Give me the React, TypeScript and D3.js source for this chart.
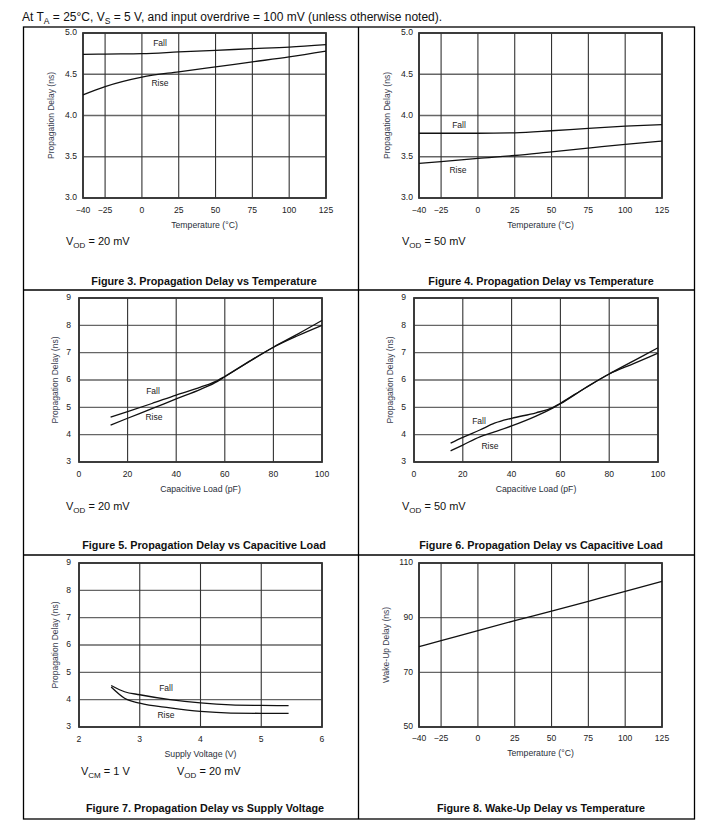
import React from "react";
import * as d3 from "d3";

// ---------- DATA ----------
const tempTicks = [-40, -25, 0, 25, 50, 75, 100, 125];
const tempsFig3 = [-40, -25, 0, 25, 50, 75, 100, 125];
const fig3Fall = [4.74, 4.745, 4.75, 4.77, 4.79, 4.81, 4.83, 4.86];
const fig3Rise = [4.25, 4.35, 4.465, 4.53, 4.59, 4.65, 4.71, 4.78];

const tempsFig4 = [-40, -25, 0, 25, 50, 75, 100, 125];
const fig4Fall = [3.785, 3.785, 3.785, 3.79, 3.815, 3.845, 3.87, 3.89];
const fig4Rise = [3.42, 3.44, 3.48, 3.515, 3.56, 3.605, 3.65, 3.69];

const delayTicksA = [3.0, 3.5, 4.0, 4.5, 5.0];

const loadTicks = [0, 20, 40, 60, 80, 100];
const delayTicksB = [3, 4, 5, 6, 7, 8, 9];
const loadsFig5 = [13, 20, 30, 40, 50, 57, 60, 70, 80, 90, 100];
const fig5Fall = [4.64, 4.84, 5.14, 5.45, 5.74, 5.98, 6.13, 6.68, 7.2, 7.62, 8.0];
const fig5Rise = [4.35, 4.6, 4.95, 5.31, 5.66, 5.95, 6.12, 6.67, 7.2, 7.68, 8.18];

const loadsFig6 = [15, 20, 27, 33, 40, 50, 57, 60, 70, 80, 90, 100];
const fig6Fall = [3.69, 3.9, 4.17, 4.42, 4.6, 4.8, 5.0, 5.15, 5.7, 6.22, 6.6, 6.98];
const fig6Rise = [3.41, 3.62, 3.92, 4.1, 4.32, 4.68, 4.98, 5.13, 5.7, 6.22, 6.7, 7.18];

const supplyTicks = [2, 3, 4, 5, 6];
const supplyFig7 = [2.53, 2.75, 3.0, 3.5, 4.0, 4.5, 5.0, 5.45];
const fig7Fall = [4.52, 4.29, 4.18, 4.0, 3.88, 3.81, 3.79, 3.78];
const fig7Rise = [4.46, 4.05, 3.87, 3.7, 3.57, 3.51, 3.5, 3.5];

const wakeTicks = [50, 70, 90, 110];
const tempsFig8 = [-40, -25, 0, 25, 50, 75, 100, 125];
const fig8Wake = [79.4, 81.6, 85.3, 88.9, 92.4, 96.0, 99.6, 103.3];

const FONT = "'Liberation Sans', Arial, Helvetica, sans-serif";

type Series = { xs: number[]; ys: number[] };
type Label = { text: string; x: number; y: number };

type PanelProps = {
  left: number;
  right: number;
  top: number;
  bottom: number;
  xDomain: [number, number];
  yDomain: [number, number];
  xTicks: number[];
  yTicks: number[];
  yFmt: (v: number) => string;
  xFmt: (v: number) => string;
  xTitle: string;
  yTitle: string;
  yTitleOffset: number;
  yLabelOffset: number;
  xLabelOffset: number;
  series: Series[];
  labels: Label[];
};

function Panel(p: PanelProps) {
  const x = d3.scaleLinear().domain(p.xDomain).range([p.left, p.right]);
  const y = d3.scaleLinear().domain(p.yDomain).range([p.bottom, p.top]);
  const line = d3
    .line<[number, number]>()
    .x((d) => x(d[0]))
    .y((d) => y(d[1]))
    .curve(d3.curveMonotoneX);
  const midY = (p.top + p.bottom) / 2;
  const ytx = p.left - p.yTitleOffset;
  return (
    <g>
      {p.yTicks.map((t) => (
        <line key={"gy" + t} x1={p.left} x2={p.right} y1={y(t)} y2={y(t)} stroke="#666" strokeWidth={1.4} />
      ))}
      {p.xTicks.map((t) => (
        <line key={"gx" + t} x1={x(t)} x2={x(t)} y1={p.top} y2={p.bottom} stroke="#333" strokeWidth={1.1} />
      ))}
      <rect x={p.left} y={p.top} width={p.right - p.left} height={p.bottom - p.top} fill="none" stroke="#333" strokeWidth={1.8} />
      {p.series.map((s, i) => (
        <path
          key={"s" + i}
          d={line(s.xs.map((v, j) => [v, s.ys[j]] as [number, number])) || ""}
          fill="none"
          stroke="#111"
          strokeWidth={1.3}
        />
      ))}
      {p.labels.map((l, i) => (
        <text key={"l" + i} x={l.x} y={l.y} fontSize={8.5} fill="#222" textAnchor="middle" dominantBaseline="middle" fontFamily={FONT}>
          {l.text}
        </text>
      ))}
      {p.yTicks.map((t) => (
        <text key={"ty" + t} x={p.left - p.yLabelOffset} y={y(t)} fontSize={8.6} fill="#222" textAnchor="end" dominantBaseline="middle" fontFamily={FONT}>
          {p.yFmt(t)}
        </text>
      ))}
      {p.xTicks.map((t) => (
        <text key={"tx" + t} x={x(t)} y={p.bottom + p.xLabelOffset} fontSize={8.6} fill="#222" textAnchor="middle" dominantBaseline="middle" fontFamily={FONT}>
          {p.xFmt(t)}
        </text>
      ))}
      <text x={(p.left + p.right) / 2} y={p.bottom + p.xLabelOffset + 15} fontSize={8.7} fill="#2a2f3a" textAnchor="middle" dominantBaseline="middle" fontFamily={FONT}>
        {p.xTitle}
      </text>
      <text
        x={ytx}
        y={midY}
        fontSize={8.5}
        fill="#3a4050"
        textAnchor="middle"
        dominantBaseline="middle"
        fontFamily={FONT}
        transform={`rotate(-90 ${ytx} ${midY})`}
      >
        {p.yTitle}
      </text>
    </g>
  );
}

function Sub({ x, y, main, sub, rest }: { x: number; y: number; main: string; sub: string; rest: string }) {
  return (
    <text x={x} y={y} fontSize={11} fill="#111" fontFamily={FONT}>
      {main}
      <tspan fontSize={8} dy={3}>{sub}</tspan>
      <tspan dy={-3}>{rest}</tspan>
    </text>
  );
}

const tempFmt = (v: number) => (v < 0 ? "\u2212" + Math.abs(v) : String(v));
const fix1 = (v: number) => v.toFixed(1);
const intFmt = (v: number) => String(v);

export default function App() {
  const titleProps = { fontSize: 10.8, fontWeight: 700, fill: "#111", textAnchor: "middle" as const, fontFamily: FONT };
  return (
    <svg width={716} height={829} style={{ position: "absolute", left: 0, top: 0, background: "#fff" }}>
      <rect x={0} y={0} width={716} height={829} fill="#fff" />
      <text x={22} y={21} fontSize={12} fill="#111" fontFamily={FONT}>
        At T<tspan fontSize={8.5} dy={3}>A</tspan>
        <tspan dy={-3}> = 25°C, V</tspan>
        <tspan fontSize={8.5} dy={3}>S</tspan>
        <tspan dy={-3}> = 5 V, and input overdrive = 100 mV (unless otherwise noted).</tspan>
      </text>

      {/* table frame */}
      <rect x={23.5} y={27} width={671} height={792} fill="none" stroke="#000" strokeWidth={1.3} />
      <line x1={358.5} x2={358.5} y1={27} y2={819} stroke="#000" strokeWidth={1.3} />
      <line x1={23.5} x2={694.5} y1={290} y2={290} stroke="#000" strokeWidth={1.3} />
      <line x1={23.5} x2={694.5} y1={555} y2={555} stroke="#000" strokeWidth={1.3} />

      {/* Figure 3 */}
      <Panel
        left={83} right={326} top={33} bottom={198}
        xDomain={[-40, 125]} yDomain={[3, 5]}
        xTicks={tempTicks} yTicks={delayTicksA}
        xFmt={tempFmt} yFmt={fix1}
        xTitle="Temperature (°C)" yTitle="Propagation Delay (ns)"
        yTitleOffset={31} yLabelOffset={6} xLabelOffset={13}
        series={[{ xs: tempsFig3, ys: fig3Fall }, { xs: tempsFig3, ys: fig3Rise }]}
        labels={[{ text: "Fall", x: 160, y: 44 }, { text: "Rise", x: 160, y: 84 }]}
      />
      <Sub x={66} y={245} main="V" sub="OD" rest=" = 20 mV" />
      <text x={204} y={285} {...titleProps}>Figure 3. Propagation Delay vs Temperature</text>

      {/* Figure 4 */}
      <Panel
        left={419} right={662} top={33} bottom={198}
        xDomain={[-40, 125]} yDomain={[3, 5]}
        xTicks={tempTicks} yTicks={delayTicksA}
        xFmt={tempFmt} yFmt={fix1}
        xTitle="Temperature (°C)" yTitle="Propagation Delay (ns)"
        yTitleOffset={31} yLabelOffset={6} xLabelOffset={13}
        series={[{ xs: tempsFig4, ys: fig4Fall }, { xs: tempsFig4, ys: fig4Rise }]}
        labels={[{ text: "Fall", x: 459, y: 126 }, { text: "Rise", x: 458, y: 171 }]}
      />
      <Sub x={402} y={245} main="V" sub="OD" rest=" = 50 mV" />
      <text x={541} y={285} {...titleProps}>Figure 4. Propagation Delay vs Temperature</text>

      {/* Figure 5 */}
      <Panel
        left={79} right={322} top={298} bottom={462}
        xDomain={[0, 100]} yDomain={[3, 9]}
        xTicks={loadTicks} yTicks={delayTicksB}
        xFmt={intFmt} yFmt={intFmt}
        xTitle="Capacitive Load (pF)" yTitle="Propagation Delay (ns)"
        yTitleOffset={23} yLabelOffset={8} xLabelOffset={13}
        series={[{ xs: loadsFig5, ys: fig5Fall }, { xs: loadsFig5, ys: fig5Rise }]}
        labels={[{ text: "Fall", x: 153, y: 392 }, { text: "Rise", x: 154, y: 418 }]}
      />
      <Sub x={66} y={510} main="V" sub="OD" rest=" = 20 mV" />
      <text x={204} y={549} {...titleProps}>Figure 5. Propagation Delay vs Capacitive Load</text>

      {/* Figure 6 */}
      <Panel
        left={414} right={658} top={298} bottom={462}
        xDomain={[0, 100]} yDomain={[3, 9]}
        xTicks={loadTicks} yTicks={delayTicksB}
        xFmt={intFmt} yFmt={intFmt}
        xTitle="Capacitive Load (pF)" yTitle="Propagation Delay (ns)"
        yTitleOffset={23} yLabelOffset={8} xLabelOffset={13}
        series={[{ xs: loadsFig6, ys: fig6Fall }, { xs: loadsFig6, ys: fig6Rise }]}
        labels={[{ text: "Fall", x: 479, y: 422 }, { text: "Rise", x: 490, y: 447 }]}
      />
      <Sub x={402} y={510} main="V" sub="OD" rest=" = 50 mV" />
      <text x={541} y={549} {...titleProps}>Figure 6. Propagation Delay vs Capacitive Load</text>

      {/* Figure 7 */}
      <Panel
        left={79} right={322} top={563} bottom={727}
        xDomain={[2, 6]} yDomain={[3, 9]}
        xTicks={supplyTicks} yTicks={delayTicksB}
        xFmt={intFmt} yFmt={intFmt}
        xTitle="Supply Voltage (V)" yTitle="Propagation Delay (ns)"
        yTitleOffset={23} yLabelOffset={8} xLabelOffset={13}
        series={[{ xs: supplyFig7, ys: fig7Fall }, { xs: supplyFig7, ys: fig7Rise }]}
        labels={[{ text: "Fall", x: 166, y: 689 }, { text: "Rise", x: 166, y: 716 }]}
      />
      <Sub x={81} y={775} main="V" sub="CM" rest=" = 1 V" />
      <Sub x={177} y={775} main="V" sub="OD" rest=" = 20 mV" />
      <text x={205} y={812} {...titleProps}>Figure 7. Propagation Delay vs Supply Voltage</text>

      {/* Figure 8 */}
      <Panel
        left={419} right={662} top={563} bottom={727}
        xDomain={[-40, 125]} yDomain={[50, 110]}
        xTicks={tempTicks} yTicks={wakeTicks}
        xFmt={tempFmt} yFmt={intFmt}
        xTitle="Temperature (°C)" yTitle="Wake-Up Delay (ns)"
        yTitleOffset={32} yLabelOffset={6} xLabelOffset={12}
        series={[{ xs: tempsFig8, ys: fig8Wake }]}
        labels={[]}
      />
      <text x={541} y={812} {...titleProps}>Figure 8. Wake-Up Delay vs Temperature</text>
    </svg>
  );
}
